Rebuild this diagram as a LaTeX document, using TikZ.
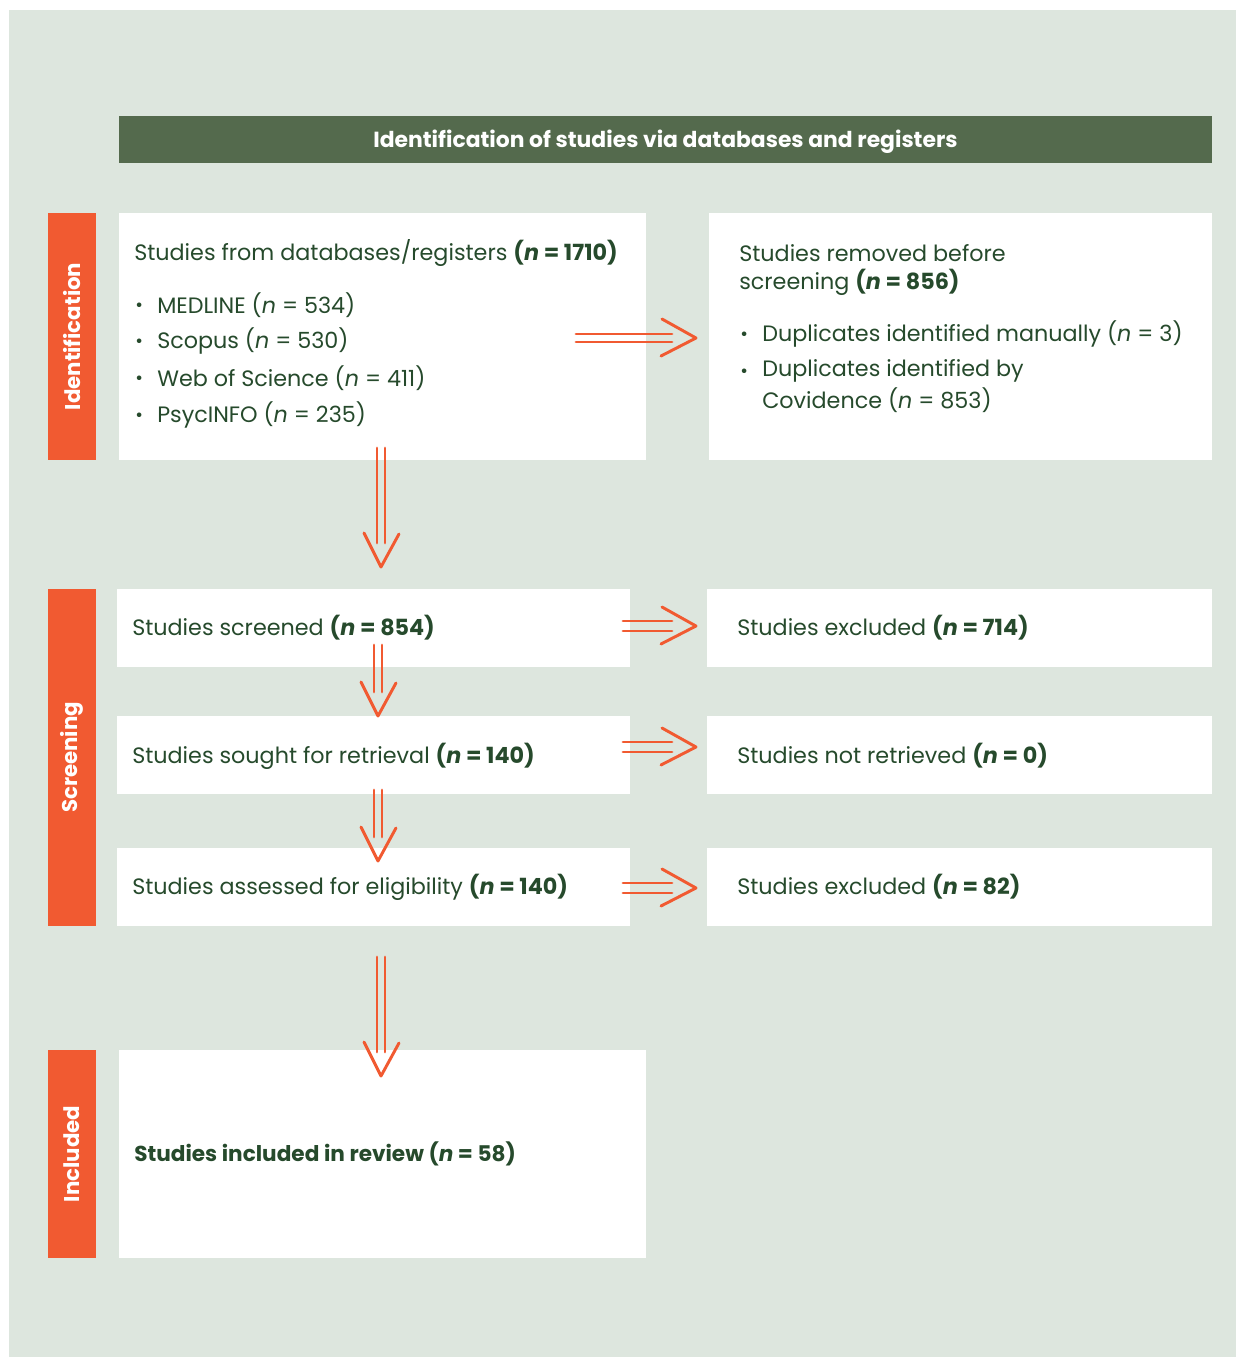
\documentclass[tikz,border=0pt]{standalone}
\usepackage{fontspec}
\setmainfont{Poppins}
\usetikzlibrary{calc}
\definecolor{bg}{HTML}{DDE6DE}
\definecolor{hdr}{HTML}{546A4D}
\definecolor{org}{HTML}{F15A31}
\definecolor{txt}{HTML}{264A2C}
\newcommand{\rbox}[6]{\node[fill=#6, inner sep=0, outer sep=0, minimum width={(#4-#2)*0.75pt}, minimum height={(#5-#3)*0.75pt}] (#1) at ({(#2+#4)/2},{(#3+#5)/2}) {};}
\newcommand{\nb}[1]{\textbf{(\textit{n} = #1)}}
\newcommand{\nr}[1]{(\textit{n} = #1)}
\newcommand{\HArr}[3]{%
  \draw[arr] ($(#1)+(0,-#3)$) -- ($(#2)+(-24,-#3)$);
  \draw[arr] ($(#1)+(0,#3)$) -- ($(#2)+(-24,#3)$);
  \draw[arr] ($(#2)+(-34,-19)$) -- (#2) -- ($(#2)+(-35,18)$);}
\newcommand{\VArr}[2]{%
  \draw[arr] ($(#1)+(-4,0)$) -- ($(#2)+(-4,-24)$);
  \draw[arr] ($(#1)+(4,0)$) -- ($(#2)+(4,-24)$);
  \draw[arr] ($(#2)+(-17,-34)$) -- (#2) -- ($(#2)+(18,-33)$);}
\begin{document}
\begin{tikzpicture}[x=0.75pt,y=-0.75pt,
  every node/.style={text=txt},
  lbl/.style={font=\fontsize{16.7}{20}\selectfont, inner sep=0, anchor=west, text=txt},
  bul/.style={font=\fontsize{14}{20}\selectfont, inner sep=0, anchor=west, text=txt},
  side/.style={font=\fontsize{16}{20}\selectfont\bfseries, text=white, rotate=90, inner sep=0},
  arr/.style={draw=org, line width=2.2pt, line cap=round, line join=round}]
\path[use as bounding box, fill=white] (0,0) rectangle (1236,1357);
\fill[bg] (9,10) rectangle (1236,1357);
% header
\rbox{hd}{119}{116}{1212}{163}{hdr}
\node[font=\fontsize{16.4}{20}\selectfont\bfseries, text=white, inner sep=0] (hdt) at ($(hd.center)+(0,2.5)$) {Identification of studies via databases and registers};
% side bars
\rbox{sid}{48}{213}{96}{460}{org}
\rbox{sscr}{48}{589}{96}{926}{org}
\rbox{sinc}{48}{1050}{96}{1258}{org}
\node[side] (sidt) at (sid.center) {Identification};
\node[side] (sscrt) at (sscr.center) {Screening};
\node[side] (sinct) at (sinc.center) {Included};
% boxes
\rbox{b1}{119}{213}{646}{460}{white}
\rbox{b2}{709}{213}{1212}{460}{white}
\rbox{scr}{117}{589}{630}{667}{white}
\rbox{exa}{707}{589}{1212}{667}{white}
\rbox{sou}{117}{716}{630}{794}{white}
\rbox{ret}{707}{716}{1212}{794}{white}
\rbox{ass}{117}{848}{630}{926}{white}
\rbox{exb}{707}{848}{1212}{926}{white}
\rbox{inc}{119}{1050}{646}{1258}{white}
% box 1 text
\node[lbl] (t1) at (134,253) {Studies from databases/registers \nb{1710}};
\node[bul] (bu1) at (135,307) {•};
\node[bul] (bu2) at (135,343) {•};
\node[bul] (bu3) at (135,380) {•};
\node[bul] (bu4) at (135,417) {•};
\node[lbl] (t1a) at (157,305) {MEDLINE \nr{534}};
\node[lbl] (t1b) at (157,341) {Scopus \nr{530}};
\node[lbl] (t1c) at (157,378) {Web of Science \nr{411}};
\node[lbl] (t1d) at (157,415) {PsycINFO \nr{235}};
% box 2 text
\node[lbl] (t2) at (739,253) {Studies removed before};
\node[lbl] (t2x) at (739,282) {screening \nb{856}};
\node[bul] (bu5) at (740,336) {•};
\node[bul] (bu6) at (740,373) {•};
\node[lbl] (t2a) at (762,334) {Duplicates identified manually \nr{3}};
\node[lbl] (t2b) at (762,371) {Duplicates identified by};
\node[lbl] (t2c) at (762,400) {Covidence \nr{853}};
% other text
\node[lbl] (tscr) at (132,628) {Studies screened \nb{854}};
\node[lbl] (texa) at (737,628) {Studies excluded \nb{714}};
\node[lbl] (tsou) at (132,756) {Studies sought for retrieval \nb{140}};
\node[lbl] (tret) at (737,756) {Studies not retrieved \nb{0}};
\node[lbl] (tass) at (132,887) {Studies assessed for eligibility \nb{140}};
\node[lbl] (texb) at (737,887) {Studies excluded \nb{82}};
\node[lbl, font=\fontsize{16.2}{20}\selectfont\bfseries] (tinc) at (134,1154) {Studies included in review (\textit{n} = 58)};
% arrows
\coordinate (h1s) at ($(b1.east)+(-70,1.5)$);
\coordinate (h1t) at ($(b2.west)+(-13,1.5)$);
\HArr{h1s}{h1t}{4}
\coordinate (h2s) at ($(scr.east)+(-7,-2)$);
\coordinate (h2t) at ($(exa.west)+(-11,-2)$);
\HArr{h2s}{h2t}{5}
\coordinate (h3s) at ($(sou.east)+(-7,-8)$);
\coordinate (h3t) at ($(ret.west)+(-11,-8)$);
\HArr{h3s}{h3t}{5}
\coordinate (h4s) at ($(ass.east)+(-7,1)$);
\coordinate (h4t) at ($(exb.west)+(-11,1)$);
\HArr{h4s}{h4t}{5}
\coordinate (v1s) at ($(b1.south)+(-1.5,-12)$);
\coordinate (v1t) at ($(b1.south)+(-1.5,107)$);
\VArr{v1s}{v1t}
\coordinate (v2s) at ($(scr.south)+(4.5,-22)$);
\coordinate (v2t) at ($(sou.north)+(4.5,0)$);
\VArr{v2s}{v2t}
\coordinate (v3s) at ($(sou.south)+(4.5,-4)$);
\coordinate (v3t) at ($(ass.north)+(4.5,13)$);
\VArr{v3s}{v3t}
\coordinate (v4s) at ($(ass.south)+(7.5,31)$);
\coordinate (v4t) at ($(inc.north)+(-1.5,26)$);
\VArr{v4s}{v4t}
\end{tikzpicture}
\end{document}
